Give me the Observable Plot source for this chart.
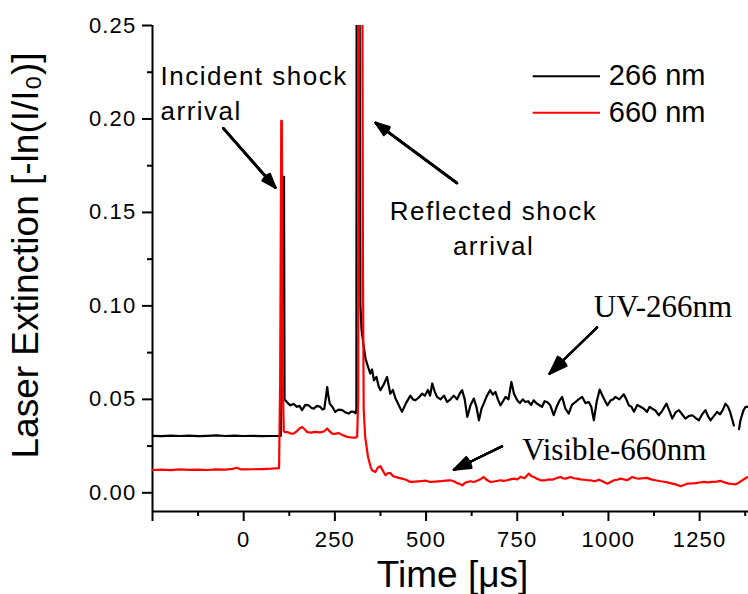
<!DOCTYPE html>
<html><head><meta charset="utf-8">
<script src="https://cdn.jsdelivr.net/npm/d3@7"></script>
<script src="https://cdn.jsdelivr.net/npm/@observablehq/plot@0.6"></script>
<style>body{margin:0;background:#fff}</style>
</head><body><div id="chart"></div>
<script>
// ---- data ----
const t266 = [-250,-225,-200,-175,-150,-125,-100,-75,-50,-25,0,25,50,75,100,102,105,109,110.5,112,114,121,128,137,146,153,160,169,178,185,192,201,210,216,221,226,229,232,236,243,251,260,270,279,288,295,302,307,309,310,316,320,323,328,334,340,347,352,357,364,370,375,384,393,402,409,416,425,434,445,457,464,471,480,489,497,505,511,517,524,530,540,549,558,567,576,585,592,599,606,613,622,631,638,645,652,658,667,676,683,690,697,704,711,718,726,734,741,750,757,765,772,780,788,795,802,810,818,825,832,840,850,858,865,873,882,891,900,910,918,928,937,946,953,960,968,976,986,997,1006,1013,1019,1030,1042,1049,1056,1063,1070,1079,1088,1097,1106,1113,1120,1129,1138,1148,1159,1167,1175,1184,1193,1202,1211,1220,1230,1239,1248,1257,1266,1273,1280,1289,1298,1306,1314,1321,1328,1334,1340,1344,1350,1358,1362,1370,1376,1384];
const v266 = [0.0305,0.0303,0.0306,0.0304,0.0306,0.0303,0.0305,0.0307,0.0304,0.0306,0.0304,0.0305,0.0303,0.0304,0.0305,0.0305,0.1,0.169,0.169,0.05,0.0495,0.048,0.0468,0.0475,0.046,0.0465,0.0442,0.047,0.0468,0.0455,0.045,0.0465,0.046,0.0445,0.045,0.052,0.0566,0.052,0.0477,0.046,0.0433,0.0445,0.0442,0.043,0.0424,0.0435,0.0433,0.0425,0.045,0.4,0.4,0.1,0.0875,0.08,0.0718,0.068,0.0638,0.066,0.0602,0.062,0.057,0.0549,0.058,0.062,0.053,0.055,0.0506,0.047,0.0433,0.048,0.052,0.05,0.0495,0.051,0.053,0.052,0.055,0.052,0.0585,0.054,0.0513,0.05,0.052,0.0486,0.05,0.052,0.05,0.053,0.0549,0.05,0.0406,0.047,0.0504,0.046,0.0388,0.045,0.0477,0.052,0.0549,0.0525,0.054,0.05,0.0468,0.049,0.0513,0.05,0.0593,0.053,0.0495,0.048,0.05,0.0486,0.049,0.047,0.0495,0.048,0.047,0.046,0.049,0.0486,0.047,0.0415,0.046,0.049,0.0513,0.045,0.0424,0.047,0.0486,0.05,0.0513,0.048,0.0486,0.046,0.0388,0.049,0.0552,0.051,0.0468,0.0495,0.05,0.0513,0.05,0.0527,0.05,0.0468,0.046,0.0433,0.047,0.046,0.045,0.0433,0.046,0.045,0.044,0.0415,0.044,0.0477,0.044,0.0397,0.043,0.0442,0.042,0.0397,0.041,0.0415,0.04,0.0388,0.042,0.0442,0.041,0.0388,0.041,0.0433,0.042,0.0445,0.0477,0.046,0.043,0.0388,0.036,NaN,0.034,0.0388,0.044,0.046,0.046];

const t660 = [-250,-225,-200,-175,-150,-125,-100,-75,-50,-30,-20,-10,0,25,50,75,97,100,103,104.5,107,110,113,119,128,137,146,154,160,167,174,185,195,201,210,220,229,235,243,251,260,270,284,295,306,311,314,317,324,327,329,333,337,341,348,352,361,368,375,381,389,395,402,409,416,425,434,445,457,470,485,498,512,525,540,553,567,576,585,592,599,606,613,622,631,640,649,658,667,677,690,704,713,722,731,741,750,759,770,782,788,795,804,814,827,837,846,857,869,875,882,889,896,905,914,923,933,942,951,962,974,985,997,1006,1015,1024,1033,1042,1051,1058,1065,1075,1084,1095,1106,1117,1129,1143,1157,1170,1184,1198,1207,1216,1228,1239,1250,1262,1273,1284,1296,1307,1318,1330,1340,1349,1358,1367,1379,1384];
const v660 = [0.0122,0.0124,0.0121,0.0125,0.0123,0.0124,0.0122,0.0125,0.0124,0.0128,0.0134,0.0127,0.0125,0.0126,0.0127,0.0129,0.0132,0.06,0.199,0.199,0.06,0.033,0.0325,0.0325,0.0318,0.0317,0.033,0.0345,0.0352,0.034,0.0325,0.0322,0.0326,0.0325,0.0323,0.0328,0.0344,0.033,0.0317,0.0315,0.032,0.031,0.0299,0.0296,0.0295,0.03,0.05,0.4,0.4,0.12,0.045,0.03,0.0246,0.019,0.0139,0.012,0.0111,0.0135,0.0142,0.012,0.0094,0.0105,0.0106,0.009,0.0085,0.008,0.0076,0.007,0.0058,0.006,0.0062,0.0065,0.0058,0.006,0.0062,0.0065,0.0067,0.0062,0.0052,0.0048,0.004,0.0052,0.0058,0.0062,0.0058,0.0065,0.0072,0.0085,0.0068,0.0058,0.0062,0.0067,0.0064,0.0067,0.0072,0.0076,0.0072,0.0085,0.0078,0.0103,0.009,0.0085,0.0075,0.0067,0.0067,0.0072,0.007,0.0078,0.0085,0.0078,0.0076,0.008,0.0085,0.0078,0.0076,0.0072,0.007,0.0068,0.0067,0.0062,0.007,0.006,0.0049,0.0058,0.0067,0.007,0.0076,0.0072,0.0067,0.0075,0.0085,0.0078,0.0076,0.0078,0.008,0.0072,0.0067,0.0062,0.0058,0.0052,0.0045,0.0035,0.0042,0.0049,0.005,0.0052,0.0055,0.0058,0.0056,0.0058,0.006,0.0064,0.0056,0.0049,0.0047,0.0045,0.0055,0.0067,0.0082,0.0085];

const seriesNames = ["266 nm", "660 nm"];
const seriesColors = ["#000000", "#ff0000"];

const xMajorTicks = [-250, 0, 250, 500, 750, 1000, 1250];
const xMinorTicks = [-125, 125, 375, 625, 875, 1125, 1375];
const yMajorTicks = [0, 0.05, 0.10, 0.15, 0.20, 0.25];
const yMinorTicks = [0.025, 0.075, 0.125, 0.175, 0.225];
const xDomain = [-250, 1384];
const yDomain = [-0.01, 0.25];

const xTitle = "Time [μs]";
const yTitle = "Laser Extinction [-ln(I/I₀)]";

// ---- annotation layout (in data units) ----
const incidentNote = [{text: "Incident shock\narrival", x: -228, y: 0.2313}];
const reflectedNote = [{text: "Reflected shock\narrival", x: 685, y: 0.159}];
const serifNotes = [
  {text: "UV-266nm", x: 960, y: 0.1057},
  {text: "Visible-660nm", x: 763.6, y: 0.0292}
];
const shockArrows = [
  {x1: -56.2, y1: 0.1951, x2: 87.2, y2: 0.1632},
  {x1: 585.4, y1: 0.1656, x2: 361.4, y2: 0.198}
];
const labelArrows = [
  {x1: 969.2, y1: 0.0886, x2: 838.4, y2: 0.0637},
  {x1: 708.7, y1: 0.0249, x2: 576, y2: 0.0123}
];
const legendLine = {x1: 793.7, x2: 978.2, xText: 1001, y: [0.2229, 0.2033]};

// ---- build ----
const d266 = t266.map((t, i) => ({t, v: v266[i]}));
const d660 = t660.map((t, i) => ({t, v: v660[i]}));
const legendData = seriesNames.map((name, i) => ({name, color: seriesColors[i], y: legendLine.y[i]}));

function headMarks(data, wing) {
  return [40, 31, 22, 13, 4].map(a => Plot.arrow(data, {
    x1: "x1", y1: "y1", x2: "x2", y2: "y2",
    stroke: "black", strokeWidth: 2, headAngle: a, headLength: wing * 0.75
  }));
}

const chart = Plot.plot({
  width: 748, height: 594,
  marginLeft: 152, marginRight: 0, marginTop: 25, marginBottom: 83,
  style: {fontFamily: "'Liberation Sans', Arial, sans-serif", background: "#fff", color: "#000"},
  x: {domain: xDomain},
  y: {domain: yDomain},
  marks: [
    Plot.axisX({ticks: xMajorTicks, tickSize: 10, tickPadding: 10, strokeWidth: 2, fontSize: 22,
      tickFormat: d => d === xDomain[0] ? "" : String(d), label: null}),
    Plot.axisX({ticks: xMinorTicks, tickSize: 5, strokeWidth: 2, tickFormat: () => "", label: null}),
    Plot.axisY({ticks: yMajorTicks, tickSize: 10, tickPadding: 6, strokeWidth: 2, fontSize: 22,
      tickFormat: d3.format(".2f"), label: null}),
    Plot.axisY({ticks: yMinorTicks, tickSize: 5, strokeWidth: 2, tickFormat: () => "", label: null}),
    Plot.ruleX([xDomain[0]], {strokeWidth: 2}),
    Plot.ruleY([yDomain[0]], {strokeWidth: 2}),
    Plot.line(d266, {x: "t", y: "v", stroke: seriesColors[0], strokeWidth: 2.2, clip: true}),
    Plot.line(d660, {x: "t", y: "v", stroke: seriesColors[1], strokeWidth: 2.2, clip: true}),
    // legend
    Plot.ruleY(legendData, {y: "y", x1: legendLine.x1, x2: legendLine.x2, stroke: "color", strokeWidth: 2}),
    Plot.text(legendData, {x: legendLine.xText, y: "y", text: "name", textAnchor: "start", fontSize: 29}),
    // annotations
    Plot.text(incidentNote, {x: "x", y: "y", text: "text", textAnchor: "start", lineAnchor: "top", fontSize: 26, lineHeight: 1.346}),
    Plot.text(reflectedNote, {x: "x", y: "y", text: "text", textAnchor: "middle", lineAnchor: "top", fontSize: 26, lineHeight: 1.346}),
    Plot.text(serifNotes, {x: "x", y: "y", text: "text", textAnchor: "start", lineAnchor: "top", fontSize: 31, fontFamily: "'Liberation Serif', 'Times New Roman', serif"}),
    Plot.link(shockArrows, {x1: "x1", y1: "y1", x2: "x2", y2: "y2", stroke: "black", strokeWidth: 3}),
    ...headMarks(shockArrows, 15),
    Plot.link(labelArrows, {x1: "x1", y1: "y1", x2: "x2", y2: "y2", stroke: "black", strokeWidth: 1.7}),
    ...headMarks(labelArrows, 19),
    // axis titles
    Plot.text([xTitle], {frameAnchor: "bottom", textAnchor: "middle", lineAnchor: "middle", dx: 2, dy: 64, fontSize: 37}),
    Plot.text([yTitle], {frameAnchor: "left", textAnchor: "middle", lineAnchor: "middle", rotate: -90, dx: -126, dy: -13, fontSize: 37})
  ]
});

chart.querySelectorAll('[font-size="22"]').forEach(g => g.setAttribute("letter-spacing", "1.2"));
chart.querySelectorAll('[font-size="26"]').forEach(g => g.setAttribute("letter-spacing", "1.5"));
document.getElementById("chart").appendChild(chart);
</script></body></html>
